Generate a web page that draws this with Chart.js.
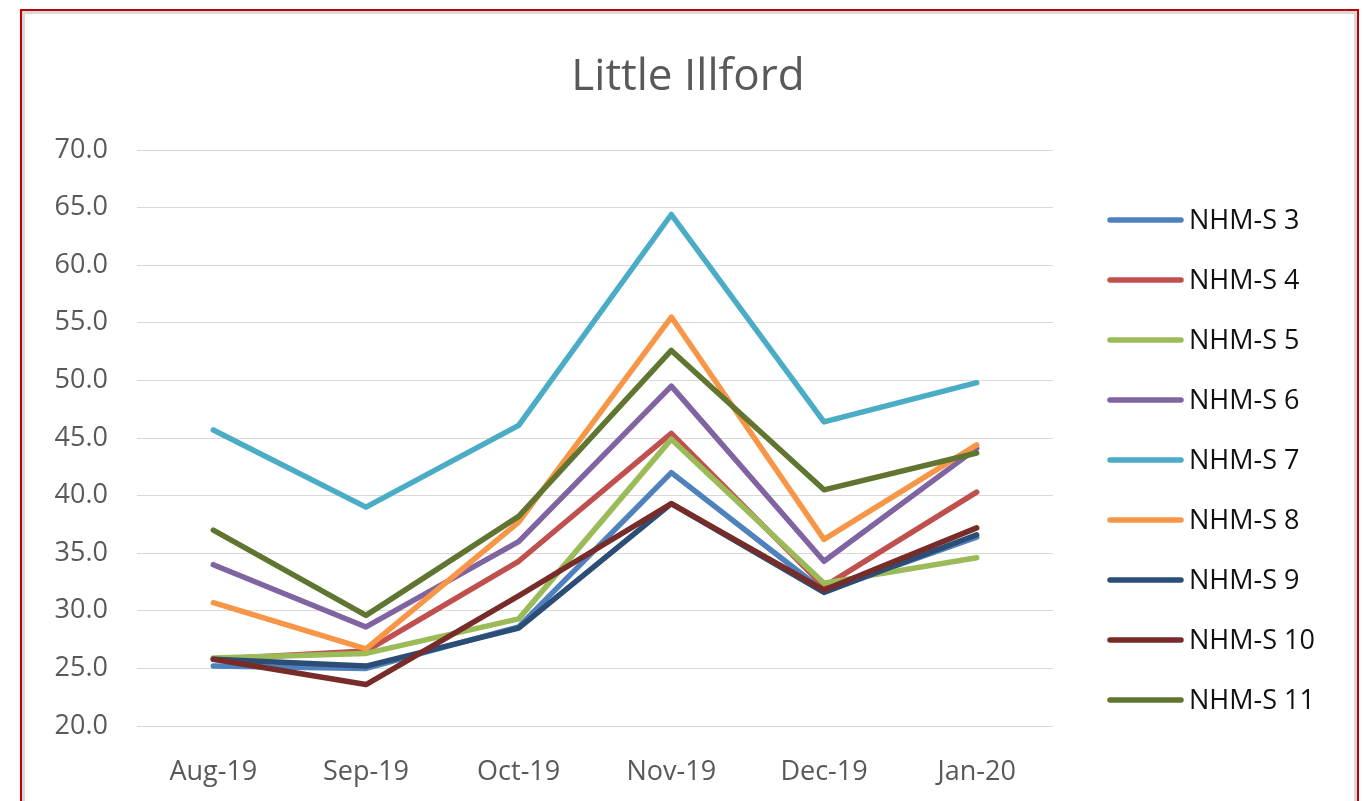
<!DOCTYPE html>
<html>
<head>
<meta charset="utf-8">
<script src="https://cdn.jsdelivr.net/npm/chart.js@4/dist/chart.umd.min.js"></script>
<style>
  html, body { margin: 0; padding: 0; background: #fff; overflow: hidden; }
  .frame {
    position: absolute; left: 20px; top: 9px; width: 1339px; height: 900px;
    box-sizing: border-box; border: 2px solid #c00000;
    box-shadow: inset 0 0 0 3px #d9d9d9;
  }
  #myChart { position: absolute; left: 0; top: 0; }
</style>
</head>
<body>
<div class="frame"></div>
<canvas id="myChart" width="1364" height="801"></canvas>
<script>
const months = ['Aug-19', 'Sep-19', 'Oct-19', 'Nov-19', 'Dec-19', 'Jan-20'];
const names = ['NHM-S 3', 'NHM-S 4', 'NHM-S 5', 'NHM-S 6', 'NHM-S 7', 'NHM-S 8', 'NHM-S 9', 'NHM-S 10', 'NHM-S 11'];
const colors = ['#4f81bd', '#c0504d', '#9bbb59', '#8064a2', '#4bacc6', '#f79646', '#2c4d75', '#772c2a', '#5f7530'];

const s3  = [25.2, 25.0, 28.6, 42.0, 31.7, 36.4];
const s4  = [25.8, 26.5, 34.3, 45.4, 32.1, 40.3];
const s5  = [25.9, 26.3, 29.3, 44.9, 32.4, 34.6];
const s6  = [34.0, 28.6, 36.0, 49.5, 34.3, 44.1];
const s7  = [45.7, 39.0, 46.1, 64.4, 46.4, 49.8];
const s8  = [30.7, 26.7, 37.7, 55.5, 36.2, 44.4];
const s9  = [25.8, 25.2, 28.5, 39.3, 31.6, 36.6];
const s10 = [25.8, 23.6, 31.3, 39.3, 31.8, 37.2];
const s11 = [37.0, 29.6, 38.2, 52.6, 40.5, 43.7];
const series = [s3, s4, s5, s6, s7, s8, s9, s10, s11];

const chartTitle = 'Little Illford';
const FONT = '"Open Sans", sans-serif';
const GREY = '#595959';
const LINE_W = 5.5;

// title over the whole frame, legend on the right (line sample + name)
const frameText = {
  id: 'frameText',
  afterDraw(chart) {
    const ctx = chart.ctx;
    ctx.save();
    ctx.textBaseline = 'middle';
    ctx.textAlign = 'center';
    ctx.fillStyle = GREY;
    ctx.font = '44px ' + FONT;
    ctx.fillText(chartTitle, 688, 77);

    ctx.textAlign = 'left';
    ctx.font = '27px ' + FONT;
    ctx.lineCap = 'round';
    chart.data.datasets.forEach((ds, i) => {
      const y = 220 + i * 60;
      ctx.strokeStyle = ds.borderColor;
      ctx.lineWidth = LINE_W;
      ctx.beginPath();
      ctx.moveTo(1110, y);
      ctx.lineTo(1181, y);
      ctx.stroke();
      ctx.fillStyle = '#111';
      ctx.fillText(ds.label, 1189, y + 1);
    });
    ctx.restore();
  }
};

const ctx = document.getElementById('myChart').getContext('2d');
const myChart = new Chart(ctx, {
  type: 'line',
  data: {
    labels: months,
    datasets: series.map((d, i) => ({
      label: names[i],
      data: d,
      borderColor: colors[i],
      backgroundColor: colors[i],
      borderWidth: LINE_W,
      borderCapStyle: 'round',
      borderJoinStyle: 'round',
      pointRadius: 0,
      tension: 0,
      order: series.length - i   // later series on top
    }))
  },
  options: {
    responsive: false,
    animation: false,
    layout: { padding: { left: 0, right: 311, top: 150, bottom: 0 } },
    plugins: {
      legend: { display: false },
      tooltip: { enabled: false },
      title: { display: false }
    },
    scales: {
      x: {
        offset: true,
        grid: { display: false },
        border: { display: false },
        ticks: { color: GREY, padding: 22, font: { family: FONT, size: 27 }, maxRotation: 0 },
        afterFit: s => { s.height = 75; }
      },
      y: {
        min: 20, max: 70,
        grid: { color: '#d9d9d9', lineWidth: 1, drawTicks: false },
        border: { display: false },
        ticks: {
          stepSize: 5, color: GREY, padding: 29,
          font: { family: FONT, size: 27 },
          callback: v => Number(v).toFixed(1)
        },
        afterFit: s => { s.width = 137; }
      }
    }
  },
  plugins: [frameText]
});
</script>
</body>
</html>
